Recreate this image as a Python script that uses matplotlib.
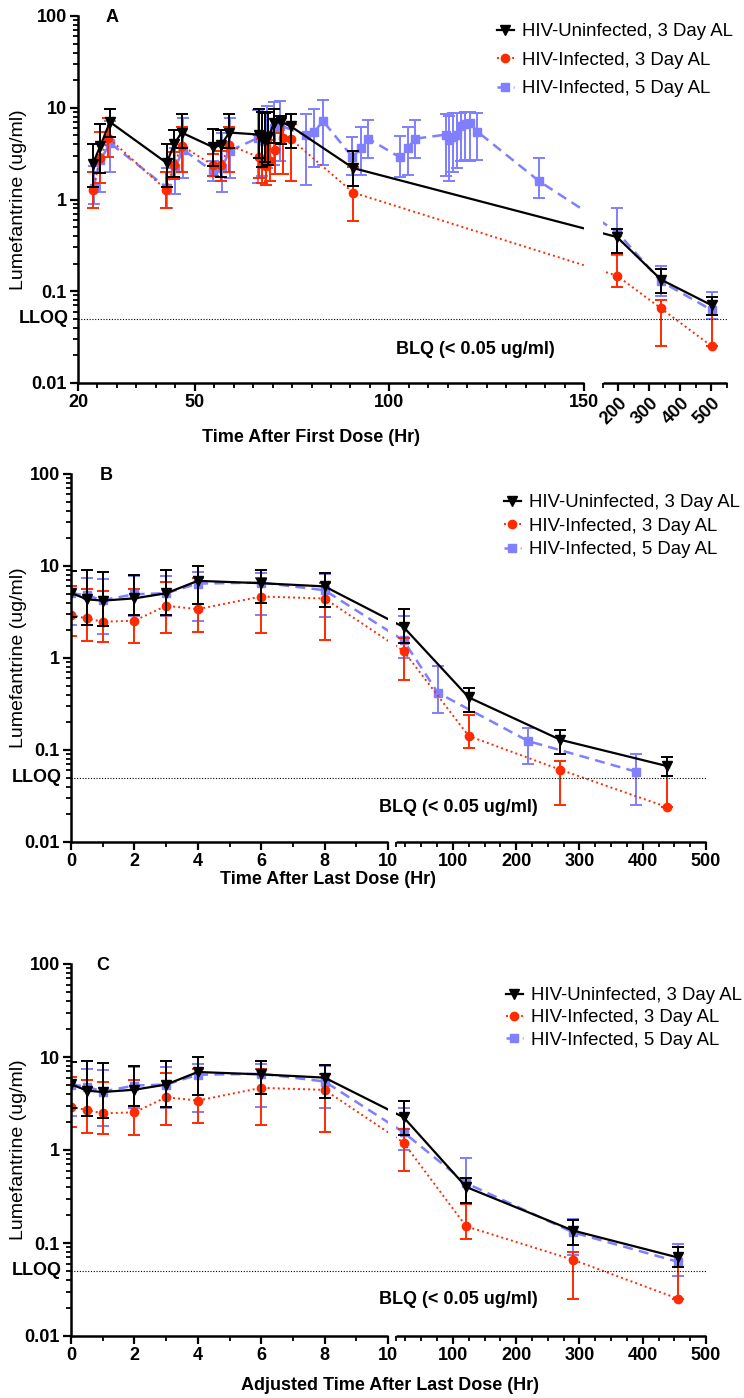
import numpy as np
import matplotlib
matplotlib.use("Agg")
import matplotlib.pyplot as plt
from matplotlib.lines import Line2D
from matplotlib.ticker import LogLocator, NullFormatter

W, H = 744, 1398

plt.rcParams['font.family'] = ['Liberation Sans', 'DejaVu Sans']
plt.rcParams['font.weight'] = 'bold'

labels = ['HIV-Uninfected, 3 Day AL', 'HIV-Infected, 3 Day AL', 'HIV-Infected, 5 Day AL']

# ---------- panel A: time after first dose (hr) ----------
a_unf_t = [23.8, 25.7, 28.2, 42.8, 44.7, 46.6, 54.8, 56.7, 58.9, 66.5, 67.3, 68.1, 68.9, 70.4, 72.2, 74.6, 90.7, 195, 337, 502]
a_unf_v = [2.44, 3.8, 7.0, 2.5, 4.0, 5.37, 3.7, 3.9, 5.37, 5.1, 4.55, 4.4, 4.75, 6.9, 7.0, 6.3, 2.2, 0.39, 0.134, 0.07]
a_unf_lo = [1.36, 1.93, 4.8, 1.37, 1.75, 3.6, 2.3, 1.75, 3.6, 2.8, 2.25, 2.55, 2.4, 4.1, 4.0, 3.6, 1.39, 0.26, 0.095, 0.055]
a_unf_hi = [4.0, 6.7, 9.6, 4.0, 5.7, 8.5, 5.8, 5.7, 8.5, 9.8, 9.1, 8.8, 8.9, 9.8, 8.2, 8.5, 3.4, 0.48, 0.174, 0.086]

a_inf3_t = [23.8, 25.7, 27.8, 42.6, 44.7, 46.6, 54.8, 56.7, 58.9, 66.5, 67.4, 68.2, 69.2, 70.6, 72.6, 74.7, 90.7, 195, 337, 502]
a_inf3_v = [1.28, 2.8, 4.7, 1.28, 2.35, 3.86, 2.35, 2.35, 3.9, 2.9, 2.45, 2.3, 2.6, 3.45, 4.7, 4.55, 1.19, 0.148, 0.065, 0.025]
a_inf3_lo = [0.81, 1.5, 2.9, 0.81, 1.67, 2.0, 1.8, 1.6, 2.0, 1.7, 1.5, 1.45, 1.6, 1.9, 1.9, 1.6, 0.59, 0.11, 0.025, 0.025]
a_inf3_hi = [2.0, 5.4, 7.8, 2.0, 3.3, 6.1, 3.1, 3.4, 6.1, 5.0, 4.6, 4.3, 4.5, 5.3, 6.9, 6.7, 2.27, 0.253, 0.08, 0.055]

a_inf5_t = [24.0, 25.7, 28.3, 42.8, 44.9, 47.0, 54.8, 56.9, 59.0, 66.3, 67.4, 68.6, 70.3, 72.0,
            78.7, 80.7, 82.9, 90.5, 92.6, 94.6, 102.6, 104.7, 106.6,
            114.6, 115.4, 116.3, 117.3, 118.4, 119.4, 120.6, 122.6, 138.5, 195, 337, 502]
a_inf5_v = [1.35, 2.7, 4.1, 1.35, 2.2, 3.5, 2.0, 2.2, 3.4, 4.7, 4.3, 5.0, 6.0, 6.4,
            5.0, 5.4, 7.2, 2.9, 3.6, 4.6, 2.9, 3.6, 4.6,
            5.1, 4.4, 4.8, 5.1, 6.3, 6.7, 6.9, 5.5, 1.58, 0.445, 0.128, 0.062]
a_inf5_lo = [0.9, 1.2, 2.0, 0.8, 1.15, 1.7, 1.6, 1.2, 1.7, 1.5, 1.8, 2.2, 2.4, 2.6,
             1.44, 2.25, 2.4, 1.86, 1.83, 2.84, 1.78, 1.83, 2.84,
             1.8, 1.6, 2.0, 2.2, 2.6, 2.7, 2.6, 2.7, 1.03, 0.25, 0.088, 0.05]
a_inf5_hi = [2.3, 6.6, 7.2, 2.2, 3.6, 7.7, 2.6, 5.3, 7.7, 9.5, 9.0, 10.5, 11.5, 11.8,
             8.5, 9.8, 12.0, 4.8, 6.1, 7.35, 4.95, 6.1, 7.35,
             8.5, 8.1, 8.8, 8.8, 8.8, 9.0, 9.0, 8.8, 2.84, 0.81, 0.187, 0.098]

# ---------- panels B and C: first 8 hr after last dose (same in both) ----------
bc_t_left = [0, 0.5, 1, 2, 3, 4, 6, 8]
unf_v_left = [5.1, 4.35, 4.2, 4.45, 5.05, 6.9, 6.5, 6.0]
unf_lo_left = [2.8, 2.3, 2.2, 2.95, 2.9, 3.9, 4.0, 3.6]
unf_hi_left = [8.9, 9.0, 8.7, 8.0, 9.0, 9.9, 9.0, 8.3]
inf3_v_left = [2.92, 2.69, 2.48, 2.54, 3.69, 3.4, 4.66, 4.43]
inf3_lo_left = [1.75, 1.54, 1.48, 1.44, 1.85, 1.94, 1.85, 1.58]
inf3_hi_left = [6.07, 5.68, 5.36, 5.59, 6.71, 7.35, 7.35, 6.6]
inf5_v_left = [5.06, 4.8, 4.25, 4.93, 5.06, 6.44, 6.6, 5.45]
inf5_lo_left = [2.3, 2.3, 1.82, 2.85, 2.83, 2.54, 2.92, 2.8]
inf5_hi_left = [8.8, 7.47, 7.17, 7.8, 7.8, 8.5, 8.45, 8.1]

# panel B, later samples (time after last dose)
b_unf_t = [22, 125, 270, 438]
b_unf_v = [2.17, 0.373, 0.129, 0.067]
b_unf_lo = [1.45, 0.256, 0.091, 0.052]
b_unf_hi = [3.37, 0.47, 0.165, 0.084]
b_inf3_t = [22, 125, 270, 438]
b_inf3_v = [1.19, 0.142, 0.061, 0.024]
b_inf3_lo = [0.58, 0.104, 0.025, 0.024]
b_inf3_hi = [1.66, 0.24, 0.076, 0.052]
b_inf5_t = [22, 76, 219, 390]
b_inf5_v = [1.55, 0.42, 0.125, 0.058]
b_inf5_lo = [1.0, 0.25, 0.07, 0.025]
b_inf5_hi = [2.85, 0.81, 0.175, 0.091]

# panel C, later samples (adjusted time after last dose)
c_t = [22, 121, 290, 455]
c_unf_v = [2.25, 0.40, 0.136, 0.070]
c_unf_lo = [1.45, 0.27, 0.095, 0.055]
c_unf_hi = [3.4, 0.5, 0.178, 0.09]
c_inf3_v = [1.2, 0.151, 0.066, 0.0253]
c_inf3_lo = [0.6, 0.11, 0.0253, 0.0253]
c_inf3_hi = [1.67, 0.264, 0.081, 0.055]
c_inf5_v = [1.55, 0.44, 0.13, 0.063]
c_inf5_lo = [1.0, 0.27, 0.074, 0.044]
c_inf5_hi = [2.84, 0.82, 0.18, 0.097]

LLOQ = 0.05

styles = [
    dict(color='black', ls='-', marker='v', ms=6.5, lw=1.6, z=3),
    dict(color='#FF2A00', ls=(0, (1, 1.6)), marker='o', ms=6, lw=1.4, z=2),
    dict(color='#7F7FFF', ls=(0, (4, 2.5)), marker='s', ms=5.5, lw=1.8, z=1),
]


def broken_scale(a1, gap, b1, span):
    # left part stays linear as is, right part [a1, b1] squeezed to `span` after a gap
    k = span / (b1 - a1)

    def fwd(t):
        t = np.asarray(t, dtype=float)
        return np.where(t <= a1, t, a1 + gap + (t - a1) * k)

    def inv(u):
        u = np.asarray(u, dtype=float)
        return np.where(u <= a1, u, a1 + np.clip(u - a1 - gap, 0, None) / k)
    return fwd, inv


def add_axes_px(left, top, right, bottom):
    return fig.add_axes([left / W, 1 - bottom / H, (right - left) / W, (bottom - top) / H])


def draw_panel(ax, series, a0, a1, gap, b1, span, majors, major_lbls, minors, rot_lbls=()):
    fwd, inv = broken_scale(a1, gap, b1, span)
    ax.set_xscale('function', functions=(fwd, inv))
    ax.set_yscale('log')
    for (t, v, lo, hi), st in zip(series, styles):
        v = np.array(v)
        err = [v - np.array(lo), np.array(hi) - v]
        ax.errorbar(t, v, yerr=err, color=st['color'], ls=st['ls'], lw=st['lw'],
                    marker=st['marker'], ms=st['ms'], mec=st['color'], mfc=st['color'],
                    elinewidth=1.4, capsize=4.2, capthick=1.4, zorder=st['z'])
    # gap of the broken axis
    ax.axvspan(a1, a1 + 1e-6, color='white', lw=0, zorder=4)
    ax.axhline(LLOQ, color='black', ls=(0, (1, 1.5)), lw=0.8, zorder=5)

    ax.set_ylim(0.01, 100)
    ax.set_yticks([0.01, 0.1, 1, 10, 100], ['0.01', '0.1', '1', '10', '100'])
    ax.yaxis.set_minor_locator(LogLocator(base=10, subs=np.arange(2, 10)))
    ax.yaxis.set_minor_formatter(NullFormatter())

    ax.set_xticks(majors, major_lbls)
    ax.set_xticks(minors, minor=True)
    ax.set_xlim(a0, b1)
    for lab in ax.get_xticklabels():
        if lab.get_text() in rot_lbls:
            lab.set_rotation(45)
            lab.set_ha('right')
            lab.set_va('top')
            lab.set_rotation_mode('anchor')

    for s in ['top', 'right', 'bottom']:
        ax.spines[s].set_visible(False)
    ax.spines['left'].set_linewidth(1.8)
    tr = ax.get_xaxis_transform()
    ax.plot([a0, a1], [0, 0], transform=tr, color='black', lw=1.8, clip_on=False, zorder=6,
            solid_capstyle='butt')
    ax.plot([a1 + 1e-6, b1], [0, 0], transform=tr, color='black', lw=1.8, clip_on=False,
            zorder=6, solid_capstyle='butt')
    ax.set_xlim(a0, b1)

    ax.tick_params(which='major', length=6, width=1.6, labelsize=13, pad=2)
    ax.tick_params(which='minor', length=3.5, width=1.3)
    ax.annotate('LLOQ', xy=(0, LLOQ), xycoords=ax.get_yaxis_transform(), xytext=(-7, 0),
                textcoords='offset points', ha='right', va='center', fontsize=13)
    ax.set_ylabel('Lumefantrine (ug/ml)', fontsize=14)


def legend(ax, x, y, spacing):
    handles = [Line2D([], [], color=st['color'], ls=st['ls'], lw=st['lw'], marker=st['marker'],
                      ms=st['ms']) for st in styles]
    ax.legend(handles, labels, loc='upper left', bbox_to_anchor=(x / W, 1 - y / H),
              bbox_transform=fig.transFigure, frameon=False, handlelength=0.9,
              handletextpad=0.45, labelspacing=spacing, borderpad=0, borderaxespad=0,
              prop=dict(family=['Liberation Sans', 'DejaVu Sans'], weight='normal', size=13.4))


fig = plt.figure(figsize=(W / 100, H / 100), dpi=100)

# ---- A ----
axA = add_axes_px(78, 16, 727, 383)
draw_panel(axA,
           [(a_unf_t, a_unf_v, a_unf_lo, a_unf_hi),
            (a_inf3_t, a_inf3_v, a_inf3_lo, a_inf3_hi),
            (a_inf5_t, a_inf5_v, a_inf5_lo, a_inf5_hi)],
           20, 150, 4.88, 550, 31.86,
           [20, 50, 100, 150, 200, 300, 400, 500],
           ['20', '50', '100', '150', '200', '300', '400', '500'],
           [t for t in range(25, 150, 5) if t not in (50, 100)] + [150.000001, 250, 350, 450, 550],
           rot_lbls=('200', '300', '400', '500'))
axA.yaxis.set_label_coords((27 - 78) / 649, 0.5)
legend(axA, 497, 23, 0.62)

# ---- B ----
right_minor = [10.000001] + [t for t in range(25, 500, 25) if t % 100]
axB = add_axes_px(71, 474, 706, 842)
draw_panel(axB,
           [(bc_t_left + b_unf_t, unf_v_left + b_unf_v, unf_lo_left + b_unf_lo, unf_hi_left + b_unf_hi),
            (bc_t_left + b_inf3_t, inf3_v_left + b_inf3_v, inf3_lo_left + b_inf3_lo, inf3_hi_left + b_inf3_hi),
            (bc_t_left + b_inf5_t, inf5_v_left + b_inf5_v, inf5_lo_left + b_inf5_lo, inf5_hi_left + b_inf5_hi)],
           0, 10, 0.25, 500, 9.78,
           [0, 2, 4, 6, 8, 10, 100, 200, 300, 400, 500],
           ['0', '2', '4', '6', '8', '10', '100', '200', '300', '400', '500'],
           [1, 3, 5, 7, 9] + right_minor)
axB.yaxis.set_label_coords((27 - 71) / 635, 0.5)
legend(axB, 504, 494, 0.36)

# ---- C ----
axC = add_axes_px(71, 964, 706, 1336)
draw_panel(axC,
           [(bc_t_left + c_t, unf_v_left + c_unf_v, unf_lo_left + c_unf_lo, unf_hi_left + c_unf_hi),
            (bc_t_left + c_t, inf3_v_left + c_inf3_v, inf3_lo_left + c_inf3_lo, inf3_hi_left + c_inf3_hi),
            (bc_t_left + c_t, inf5_v_left + c_inf5_v, inf5_lo_left + c_inf5_lo, inf5_hi_left + c_inf5_hi)],
           0, 10, 0.25, 500, 9.78,
           [0, 2, 4, 6, 8, 10, 100, 200, 300, 400, 500],
           ['0', '2', '4', '6', '8', '10', '100', '200', '300', '400', '500'],
           [1, 3, 5, 7, 9] + right_minor)
axC.yaxis.set_label_coords((27 - 71) / 635, 0.5)
legend(axC, 506, 987, 0.29)


def ftext(x, y, s, size=13, ha='center'):
    fig.text(x / W, 1 - y / H, s, fontsize=size, ha=ha, va='center')


ftext(112, 18, 'A', 13)
ftext(106, 476, 'B', 13)
ftext(103, 965, 'C', 13)
ftext(396, 350, 'BLQ (< 0.05 ug/ml)', ha='left')
ftext(379, 808, 'BLQ (< 0.05 ug/ml)', ha='left')
ftext(379, 1300, 'BLQ (< 0.05 ug/ml)', ha='left')
ftext(311, 437, 'Time After First Dose (Hr)')
ftext(328, 880, 'Time After Last Dose (Hr)')
ftext(390, 1385, 'Adjusted Time After Last Dose (Hr)')

fig.savefig('out.png', dpi=100)
